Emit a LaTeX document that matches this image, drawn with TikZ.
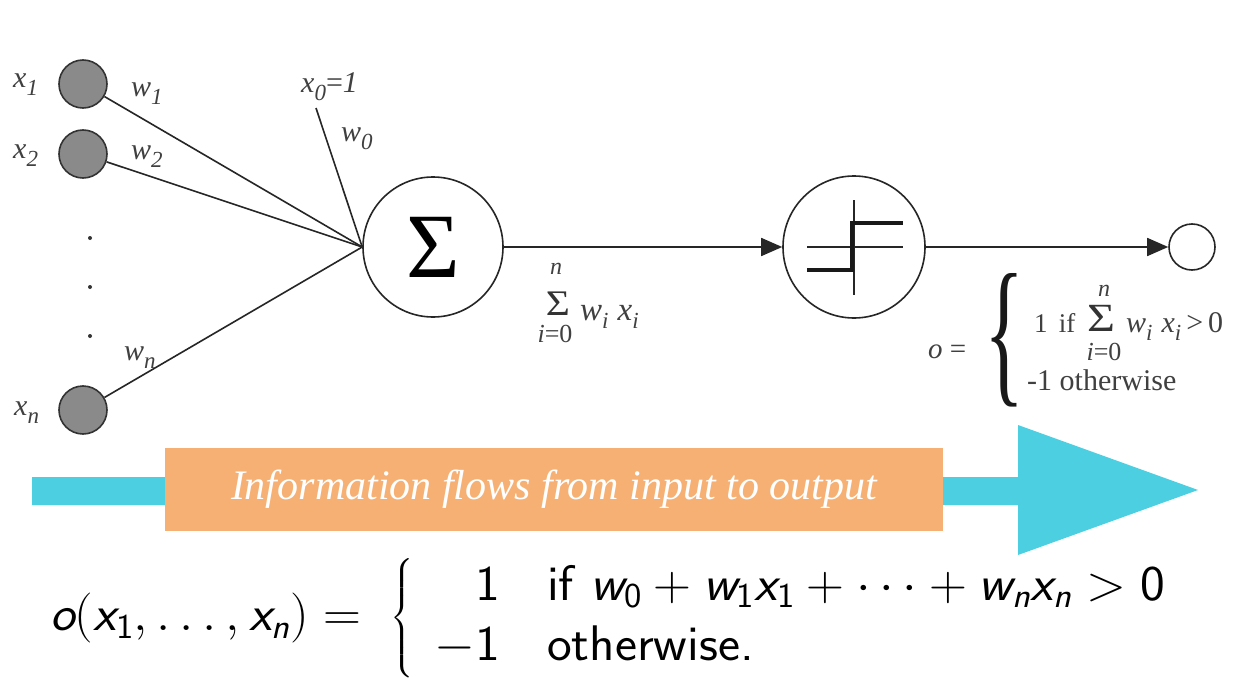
\RequirePackage{fix-cm}
\documentclass[tikz,border=0pt]{standalone}
\usepackage{amsmath}
\usepackage{fontspec}
\setmainfont{Liberation Serif}
\usepackage{graphicx}
\usetikzlibrary{arrows.meta}
\definecolor{cyanarrow}{HTML}{4CCFE0}
\definecolor{orangebox}{HTML}{F6B073}
\definecolor{nodegray}{HTML}{8A8A8A}
\definecolor{inkgray}{HTML}{333333}
\newcommand\lb[2]{\textit{#1}\raisebox{-8pt}{\fontsize{23}{23}\selectfont\textit{#2}}}
\newcommand\sv[1]{\text{\sffamily\itshape #1}}
\newcommand\sn[1]{\text{\sffamily #1}}
\begin{document}
\begin{tikzpicture}[x=1pt,y=-1pt,
  inp/.style={circle,draw=inkgray,fill=nodegray,line width=1.6pt,minimum size=48pt,inner sep=0},
  unit/.style={circle,draw=black!85,fill=white,line width=1.6pt,inner sep=0},
  wire/.style={line width=1.6pt,draw=black!85},
  arr/.style={wire,-{Triangle[length=21pt,width=18pt]}},
  lbl/.style={font=\fontsize{30}{32}\selectfont,inner sep=0,text=black!75},
  smlbl/.style={font=\fontsize{24}{26}\selectfont,inner sep=0,text=black!75},
  dot/.style={circle,fill=black!80,inner sep=0,minimum size=4pt},
]
\useasboundingbox (0,0) rectangle (1250,690);
\fill[white] (0,0) rectangle (1250,690);

% inputs
\node[inp] (x1) at (83,84) {};
\node[inp] (x2) at (83,154) {};
\node[inp] (xn) at (83,410) {};
\node[lbl,anchor=base west] (lx1) at (13,88) {\lb{x}{1}};
\node[lbl,anchor=base west] (lx2) at (13,158) {\lb{x}{2}};
\node[lbl,anchor=base west] (lxn) at (14,415) {\lb{x}{n}};
\node[dot] (d1) at (90,238) {};
\node[dot] (d2) at (90,287) {};
\node[dot] (d3) at (90,336) {};

% units
\node[unit,minimum size=140pt] (sig) at (433,247) {\fontsize{92}{92}\selectfont Σ};
\node[unit,minimum size=142pt] (step) at (854,247) {};
\node[unit,minimum size=46pt] (out) at (1192,247) {};
\coordinate (x0) at (316,108);

% connectors
\draw[wire] (x1) -- (sig.west);
\draw[wire] (x2) -- (sig.west);
\draw[wire] (xn) -- (sig.west);
\draw[wire] (x0) -- (sig.west);
\draw[arr] (sig) -- (step);
\draw[arr] (step) -- (out);

% step function glyph
\draw[line width=1.6pt,black!85] (854,200) -- (854,295);
\draw[line width=1.6pt,black!85] (807,247) -- (903,247);
\draw[line width=4pt,black!90] (807,270) -- (852,270) -- (852,223) -- (903,223);

% weight labels
\node[lbl,anchor=base west] (lw1) at (131,97) {\lb{w}{1}};
\node[lbl,anchor=base west] (lw2) at (131,160) {\lb{w}{2}};
\node[lbl,anchor=base west] (lwn) at (124,360) {\lb{w}{n}};
\node[lbl,anchor=base west] (lw0) at (341,142) {\lb{w}{0}};
\node[lbl,anchor=base west] (lx0) at (301,93) {\lb{x}{0}=\textit{1}};

% sum label
\node[smlbl] (sn) at (556,269) {\textit{n}};
\node[font=\fontsize{36}{36}\selectfont,inner sep=0,text=black!80] (ss) at (558,304) {\scalebox{1.15}[1]{Σ}};
\node[smlbl,font=\fontsize{26}{26}\selectfont] (si) at (555,334) {\textit{i}=0};
\node[lbl,font=\fontsize{33}{33}\selectfont,anchor=base west] (swx) at (580,320) {\lb{w}{i}\hspace{9pt}\lb{x}{i}};

% output formula
\node[lbl,font=\fontsize{29}{30}\selectfont,anchor=base west] (oeq) at (928,358) {\textit{o} =};
\node[inner sep=0,text=black!90] (obr) at (1004,340) {\resizebox{40pt}{112pt}{\fontsize{40}{40}\selectfont\{}};
\node[lbl,font=\fontsize{27}{28}\selectfont,anchor=base west] (o1) at (1034,332) {1\, if};
\node[smlbl] (on) at (1104,291) {\textit{n}};
\node[font=\fontsize{40}{40}\selectfont,inner sep=0,text=black!80] (os) at (1101,318) {\scalebox{1.2}[1]{Σ}};
\node[smlbl,font=\fontsize{26}{26}\selectfont] (oi) at (1104,352) {\textit{i}=0};
\node[lbl,anchor=base west] (owx) at (1126,332) {\lb{w}{i}\hspace{9pt}\lb{x}{i}\hspace{5pt}>\hspace{5pt}0};
\node[lbl,anchor=base west] (o2) at (1027,390) {-1 otherwise};

% flow arrow
\fill[cyanarrow] (32,477) -- (1018,477) -- (1018,425) -- (1198,490) -- (1018,555) -- (1018,505) -- (32,505) -- cycle;
\node[fill=orangebox,minimum width=778pt,minimum height=83pt,inner sep=0,
      font=\fontsize{42}{44}\selectfont\itshape,text=white] (flow) at (554,489) {Information flows from input to output};

% bottom formula
\node[anchor=west,inner sep=0,font=\fontsize{50}{60}\selectfont] (form) at (50,618)
 {\scalebox{1.05}[1]{$\sv{o}(\sv{x}_{\sn{1}},\ldots,\sv{x}_{\sv{n}}) =\hspace{14pt} \left\{\begin{array}{@{\hspace{20pt}}r@{\hspace{45pt}}l@{}} \sn{1} & \sn{if } \sv{w}_{\sn{0}} + \sv{w}_{\sn{1}}\sv{x}_{\sn{1}} + \cdots + \sv{w}_{\sv{n}}\sv{x}_{\sv{n}} > \sn{0}\\ -\sn{1} & \sn{otherwise.}\end{array}\right.$}};
\end{tikzpicture}
\end{document}
